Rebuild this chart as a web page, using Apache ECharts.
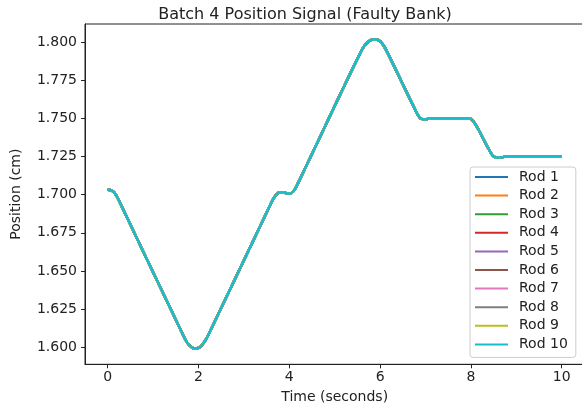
<!DOCTYPE html>
<html>
<head>
<meta charset="utf-8">
<script src="https://cdn.jsdelivr.net/npm/echarts@6/dist/echarts.min.js"></script>
<style>
html,body{margin:0;padding:0;background:#fff;}
#chart{width:582px;height:410px;}
</style>
</head>
<body>
<div id="chart"></div>
<script>
var rodNames = ['Rod 1','Rod 2','Rod 3','Rod 4','Rod 5','Rod 6','Rod 7','Rod 8','Rod 9','Rod 10'];
var rodColors = ['#1f77b4','#ff7f0e','#2ca02c','#d62728','#9467bd','#8c564b','#e377c2','#7f7f7f','#bcbd22','#17becf'];
var timeSec = [0, 0.08, 0.15, 0.25, 1.7, 1.8, 1.9, 2.0, 2.08, 2.2, 3.6, 3.7, 3.8, 3.9, 4.0, 4.1, 4.2, 5.6, 5.75, 5.88, 6.0, 6.12, 6.8, 6.9, 7.0, 7.1, 7.95, 8.05, 8.15, 8.45, 8.55, 8.65, 8.8, 10];
var positionCm = [1.7032, 1.7028, 1.7012, 1.6960, 1.6055, 1.6012, 1.5993, 1.5995, 1.6015, 1.6070, 1.6945, 1.6995, 1.7015, 1.7012, 1.7005, 1.7025, 1.7080, 1.7950, 1.8005, 1.8018, 1.8005, 1.7955, 1.7540, 1.7497, 1.7493, 1.7500, 1.7500, 1.7482, 1.7435, 1.7268, 1.7243, 1.7243, 1.7252, 1.7252];
var xTicks = [0, 2, 4, 6, 8, 10];
var yTicks = [1.600, 1.625, 1.650, 1.675, 1.700, 1.725, 1.750, 1.775, 1.800];

var pts = timeSec.map(function(t, i){ return [t, positionCm[i]]; });
var FONT = 'DejaVu Sans';
var series = rodNames.map(function(n, i){
  return {
    name: n, type: 'line', data: pts, symbol: 'none', smooth: 0.3,
    lineStyle: {color: rodColors[i], width: 2.5},
    itemStyle: {color: rodColors[i]},
    z: 2 + i
  };
});
var chart = echarts.init(document.getElementById('chart'), null, {renderer: 'canvas'});
chart.setOption({
  animation: false,
  backgroundColor: '#ffffff',
  textStyle: {fontFamily: FONT},
  title: {
    text: 'Batch 4 Position Signal (Faulty Bank)',
    left: 300, top: 2, textAlign: 'center',
    textStyle: {fontFamily: FONT, fontSize: 16, fontWeight: 'normal', color: '#222'}
  },
  grid: {left: 85, top: 24, width: 499.4, height: 340.3, show: true, borderColor: '#222', borderWidth: 1,
    containLabel: false, outerBoundsMode: 'none'},
  xAxis: {
    type: 'value', min: -0.5, max: 10.5,
    name: 'Time (seconds)', nameLocation: 'middle', nameGap: 26,
    nameTextStyle: {fontFamily: FONT, fontSize: 14, color: '#222'},
    axisLine: {show: true, onZero: false, lineStyle: {color: '#222', width: 1}},
    axisTick: {show: true, length: 4, lineStyle: {color: '#222'}, customValues: xTicks},
    axisLabel: {customValues: xTicks, fontFamily: FONT, fontSize: 14, color: '#222', margin: 6,
      formatter: function(v){ return String(Math.round(v)); }},
    splitLine: {show: false}
  },
  yAxis: {
    type: 'value', min: 1.5888, max: 1.8118,
    name: 'Position (cm)', nameLocation: 'middle', nameGap: 62, nameRotate: 90,
    nameTextStyle: {fontFamily: FONT, fontSize: 14, color: '#222'},
    axisLine: {show: true, onZero: false, lineStyle: {color: '#222', width: 1}},
    axisTick: {show: true, length: 4, lineStyle: {color: '#222'}, customValues: yTicks},
    axisLabel: {customValues: yTicks, fontFamily: FONT, fontSize: 14, color: '#222', margin: 8,
      formatter: function(v){ return v.toFixed(3); }},
    splitLine: {show: false}
  },
  legend: {
    orient: 'vertical', left: 470, top: 167,
    data: rodNames,
    itemWidth: 33, itemHeight: 14, itemGap: 4.6,
    padding: [3, 8, 6, 4],
    backgroundColor: 'rgba(255,255,255,0.85)',
    borderColor: '#cccccc', borderWidth: 1, borderRadius: 3,
    textStyle: {fontFamily: FONT, fontSize: 14, color: '#222', padding: [0, 0, 0, 6], lineHeight: 14},
    itemStyle: {opacity: 0}
  },
  series: series
});
</script>
</body>
</html>
